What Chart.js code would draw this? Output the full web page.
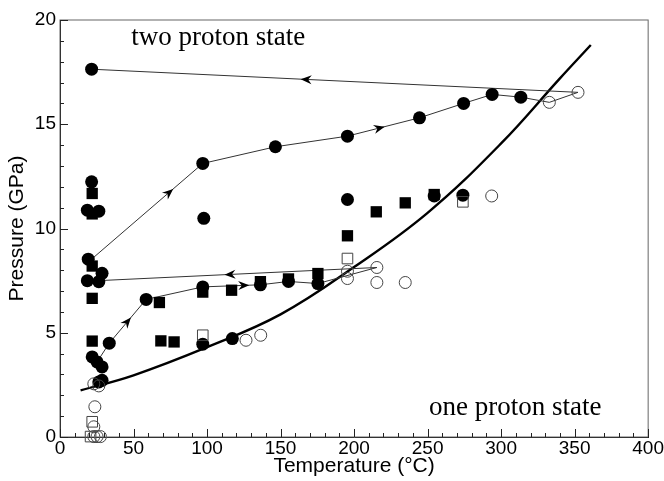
<!DOCTYPE html>
<html>
<head>
<meta charset="utf-8">
<script src="https://cdn.jsdelivr.net/npm/chart.js@4.4.0/dist/chart.umd.min.js"></script>
<style>
  html, body { margin: 0; background: #fff; }
  #wrap { width: 664px; height: 481px; }
</style>
</head>
<body>
<div id="wrap"><canvas id="phaseChart"></canvas></div>
<script>
// Temperature (°C) / Pressure (GPa)
const filledCircleT = [21.5, 21.5, 18.6, 26.4, 19.2, 18.6, 26.4, 28.6, 33.5, 21.9, 25.2, 28.6, 28.6, 26.4,
  58.6, 97.1, 97.8, 97.1, 146.5, 195.5, 244.5, 274.5, 293.9, 313.4, 97.1, 117.2, 136.3, 155.4, 175.4,
  195.5, 254.5, 274];
const filledCircleP = [17.64, 12.24, 10.88, 10.83, 8.53, 7.5, 7.45, 7.85, 4.5, 3.84, 3.6, 3.36, 2.72, 2.64,
  6.6, 7.2, 10.49, 13.12, 13.92, 14.43, 15.31, 16.0, 16.43, 16.3, 4.45, 4.72, 7.3, 7.46, 7.36,
  11.39, 11.56, 11.6];

const filledSquareT = [21.9, 21.9, 21.9, 21.9, 21.9, 67.6, 68.6, 77.6, 97.1, 116.7, 136.3, 155.4, 175.4,
  195.5, 215.1, 234.8, 254.5];
const filledSquareP = [11.68, 10.7, 8.2, 6.65, 4.6, 6.45, 4.61, 4.56, 6.95, 7.04, 7.45, 7.58, 7.84,
  9.65, 10.8, 11.23, 11.63];

const openCircleT = [23.0, 26.4, 23.7, 23.0, 23.0, 25.2, 27.5, 126.5, 136.5, 195.5, 195.5, 215.5, 215.5,
  234.8, 293.6, 332.8, 352.3];
const openCircleP = [2.55, 2.45, 1.45, 0.49, 0.02, 0.02, 0.02, 4.64, 4.88, 7.95, 7.6, 8.13, 7.41,
  7.41, 11.56, 16.05, 16.53];

const openSquareT = [21.9, 20.8, 97.1, 195.5, 274];
const openSquareP = [0.73, 0.02, 4.88, 8.56, 11.28];

// loading paths (drawn as thin lines with arrows)
const upperPathT = [21.5, 97.1, 146.5, 195.5, 244.5, 274.5, 293.9, 313.4, 332.8, 352.3, 21.5];
const upperPathP = [8.53, 13.12, 13.92, 14.43, 15.31, 16.0, 16.43, 16.3, 16.05, 16.53, 17.64];
const lowerPathT = [25.2, 33.5, 58.6, 97.1, 136.3, 155.4, 175.4, 215.5, 26.4];
const lowerPathP = [3.6, 4.5, 6.6, 7.2, 7.3, 7.46, 7.36, 8.13, 7.5];

// phase boundary
const boundaryT = [14, 50, 100, 150, 200, 250, 300, 340, 361];
const boundaryP = [2.24, 2.96, 4.31, 5.88, 8.15, 10.75, 14.08, 17.2, 18.8];

// arrow heads: path, segment, fraction along segment
const arrows = [
  { path: 0, seg: 0, frac: 0.70 },
  { path: 0, seg: 3, frac: 0.45 },
  { path: 0, seg: 9, frac: 0.56 },
  { path: 1, seg: 1, frac: 0.50 },
  { path: 1, seg: 3, frac: 0.72 },
  { path: 1, seg: 7, frac: 0.53 },
];

const notes = [
  { text: "two proton state", t: 48.4, p: 18.8 },
  { text: "one proton state", t: 251, p: 1.04 },
];

const xMajor = [0, 50, 100, 150, 200, 250, 300, 350, 400];
const yMajor = [0, 5, 10, 15, 20];

const pts = (xs, ys) => xs.map((x, i) => ({ x: x, y: ys[i] }));

const pathsPlugin = {
  id: "extras",
  afterDatasetsDraw(chart) {
    const { ctx, chartArea: a, scales: { x, y } } = chart;
    const paths = [pts(upperPathT, upperPathP), pts(lowerPathT, lowerPathP)];

    ctx.save();
    ctx.fillStyle = "#000";
    arrows.forEach((ar) => {
      const p = paths[ar.path];
      const x0 = x.getPixelForValue(p[ar.seg].x), y0 = y.getPixelForValue(p[ar.seg].y);
      const x1 = x.getPixelForValue(p[ar.seg + 1].x), y1 = y.getPixelForValue(p[ar.seg + 1].y);
      const ang = Math.atan2(y1 - y0, x1 - x0);
      const cx = x0 + (x1 - x0) * ar.frac, cy = y0 + (y1 - y0) * ar.frac;
      ctx.save();
      ctx.translate(cx, cy);
      ctx.rotate(ang);
      ctx.beginPath();
      ctx.moveTo(5, 0);
      ctx.lineTo(-6, -4.5);
      ctx.lineTo(-2.5, 0);
      ctx.lineTo(-6, 4.5);
      ctx.closePath();
      ctx.fill();
      ctx.restore();
    });

    // frame
    ctx.strokeStyle = "#666";
    ctx.lineWidth = 1;
    ctx.strokeRect(a.left, a.top, a.right - a.left, a.bottom - a.top);

    // inward ticks
    ctx.strokeStyle = "#222";
    ctx.beginPath();
    for (let v = 0; v <= 400; v += 10) {
      const px = Math.round(x.getPixelForValue(v)) + 0.5;
      const len = xMajor.includes(v) ? 8 : 4;
      ctx.moveTo(px, a.bottom);
      ctx.lineTo(px, a.bottom - len);
    }
    for (let v = 0; v <= 20; v += 1) {
      const py = Math.round(y.getPixelForValue(v)) + 0.5;
      const len = yMajor.includes(v) ? 8 : 4;
      ctx.moveTo(a.left, py);
      ctx.lineTo(a.left + len, py);
    }
    ctx.stroke();

    ctx.fillStyle = "#000";
    ctx.font = "27px 'Liberation Serif'";
    ctx.textBaseline = "alphabetic";
    notes.forEach((n) => {
      ctx.fillText(n.text, x.getPixelForValue(n.t), y.getPixelForValue(n.p));
    });
    ctx.restore();
  },
};

const lineSet = (data) => ({
  data: data,
  showLine: true,
  borderColor: "#333",
  borderWidth: 1,
  pointRadius: 0,
  order: 10,
  clip: false,
});

const markSet = (data, style, filled, r) => ({
  data: data,
  showLine: false,
  pointStyle: style,
  pointRadius: r,
  backgroundColor: filled ? "#000" : "rgba(0,0,0,0)",
  borderColor: filled ? "#000" : "#444",
  borderWidth: filled ? 0 : 1,
  order: 1,
  clip: false,
});

new Chart(document.getElementById("phaseChart").getContext("2d"), {
  type: "scatter",
  data: {
    datasets: [
      lineSet(pts(upperPathT, upperPathP)),
      lineSet(pts(lowerPathT, lowerPathP)),
      Object.assign(lineSet(pts(boundaryT, boundaryP)), { borderColor: "#000", borderWidth: 2.4, tension: 0.4 }),
      markSet(pts(openCircleT, openCircleP), "circle", false, 6),
      markSet(pts(openSquareT, openSquareP), "rect", false, 7.5),
      markSet(pts(filledSquareT, filledSquareP), "rect", true, 8),
      markSet(pts(filledCircleT, filledCircleP), "circle", true, 6.5),
    ],
  },
  options: {
    responsive: true,
    maintainAspectRatio: false,
    animation: false,
    layout: { padding: { top: 20, right: 7, left: 0, bottom: 0 } },
    plugins: { legend: { display: false }, tooltip: { enabled: false } },
    scales: {
      x: {
        type: "linear",
        min: 0,
        max: 400,
        afterFit: (s) => { s.height = 44; },
        ticks: { stepSize: 50, color: "#000", font: { family: "'Liberation Sans'", size: 19 }, padding: 0, maxRotation: 0 },
        grid: { display: false, drawTicks: false },
        border: { color: "#000", width: 1 },
        title: { display: true, text: "Temperature (°C)", color: "#000", font: { family: "'Liberation Sans'", size: 21 }, padding: { top: 0, bottom: 2 } },
      },
      y: {
        min: 0,
        max: 20,
        afterFit: (s) => { s.width = 60; },
        ticks: { stepSize: 5, color: "#000", font: { family: "'Liberation Sans'", size: 19 }, padding: 4 },
        grid: { display: false, drawTicks: false },
        border: { color: "#000", width: 1 },
        title: { display: true, text: "Pressure (GPa)", color: "#000", font: { family: "'Liberation Sans'", size: 21 }, padding: { top: 5, bottom: 0 } },
      },
    },
  },
  plugins: [pathsPlugin],
});
</script>
</body>
</html>
